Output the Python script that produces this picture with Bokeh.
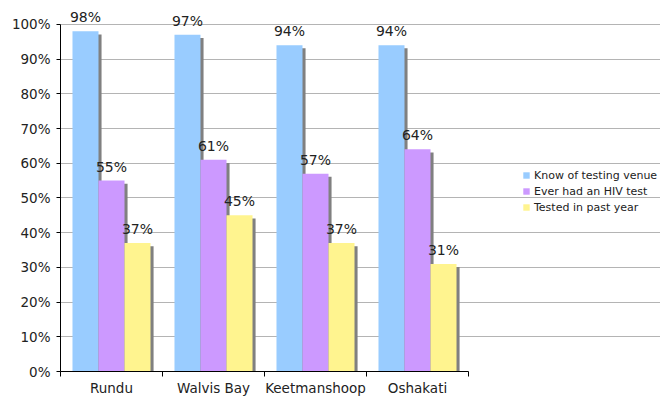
from bokeh.plotting import figure
from bokeh.models import (Range1d, FixedTicker, PrintfTickFormatter, Legend, LegendItem,
                          ColumnDataSource)
from bokeh.core.properties import value
from bokeh.embed import file_html
from bokeh.resources import INLINE

categories = ["Rundu", "Walvis Bay", "Keetmanshoop", "Oshakati"]
series_names = ["Know of testing venue", "Ever had an HIV test", "Tested in past year"]
know_venue = [98, 97, 94, 94]
ever_tested = [55, 61, 57, 64]
tested_past_year = [37, 45, 37, 31]
y_ticks = [0, 10, 20, 30, 40, 50, 60, 70, 80, 90, 100]

colors = ["#99CCFF", "#CC99FF", "#FFF48F"]
offsets = [-0.255, 0.0, 0.255]
BAR_W = 0.255
SHADOW_DX = 0.03
SHADOW_DY = 0.9
FONT = "DejaVu Sans"
TXT = "#222222"
n_cat = len(categories)

p = figure(width=660, height=398, output_backend="svg", toolbar_location=None,
           x_range=Range1d(0, 600 / 102), y_range=Range1d(0, 104),
           min_border_left=60, min_border_right=0, min_border_top=10, min_border_bottom=27)
p.outline_line_color = None
p.background_fill_color = "white"

series = [know_venue, ever_tested, tested_past_year]
centers = [i + 0.5 for i in range(n_cat)]

# shadows first
for vals, off in zip(series, offsets):
    src = ColumnDataSource(dict(x=[c + off + SHADOW_DX for c in centers],
                                top=[v - SHADOW_DY for v in vals]))
    p.vbar(x="x", top="top", bottom=0, width=BAR_W, source=src,
           fill_color="#808080", line_color=None)

renderers = []
for vals, off, col in zip(series, offsets, colors):
    src = ColumnDataSource(dict(x=[c + off for c in centers], top=vals,
                                lab=[f"{v}%" for v in vals]))
    r = p.vbar(x="x", top="top", bottom=0, width=BAR_W, source=src,
               fill_color=col, line_color=None)
    renderers.append(r)
    p.text(x="x", y="top", text="lab", source=src, text_align="center",
           text_baseline="alphabetic", y_offset=-14, text_font=value(FONT),
           text_font_size="14px", text_color=TXT)

# axes
p.yaxis.ticker = FixedTicker(ticks=y_ticks)
p.yaxis.formatter = PrintfTickFormatter(format="%d%%")
p.yaxis.bounds = (0, 100)
p.yaxis.axis_line_color = "black"
p.yaxis.major_tick_line_color = "black"
p.yaxis.major_tick_out = 4
p.yaxis.major_tick_in = 0
p.yaxis.minor_tick_line_color = None
p.yaxis.major_label_standoff = 6
p.yaxis.major_label_text_font = FONT
p.yaxis.major_label_text_font_size = "13.5px"
p.yaxis.major_label_text_color = TXT

p.xaxis.ticker = FixedTicker(ticks=centers, minor_ticks=list(range(n_cat + 1)))
p.xaxis.major_label_overrides = {c: name for c, name in zip(centers, categories)}
p.xaxis.bounds = (0, n_cat)
p.xaxis.major_tick_line_color = None
p.xaxis.minor_tick_line_color = "black"
p.xaxis.minor_tick_out = 5
p.xaxis.minor_tick_in = 0
p.xaxis.axis_line_color = "black"
p.xaxis.major_label_standoff = 2
p.xaxis.major_label_text_font = FONT
p.xaxis.major_label_text_font_size = "13.5px"
p.xaxis.major_label_text_color = TXT

p.xgrid.grid_line_color = None
p.ygrid.ticker = FixedTicker(ticks=y_ticks)
p.ygrid.bounds = (0, n_cat)
p.ygrid.grid_line_color = "#B4B4B4"

legend = Legend(items=[LegendItem(label=n, renderers=[r]) for n, r in zip(series_names, renderers)],
                location=(462, 156), orientation="vertical",
                label_text_font=FONT, label_text_font_size="11px", label_text_color=TXT,
                glyph_width=8, glyph_height=8, label_height=16, label_standoff=4,
                spacing=0, padding=0, margin=0,
                border_line_color=None, background_fill_alpha=0)
p.add_layout(legend, "center")

open("out.html", "w").write(file_html(p, INLINE))
